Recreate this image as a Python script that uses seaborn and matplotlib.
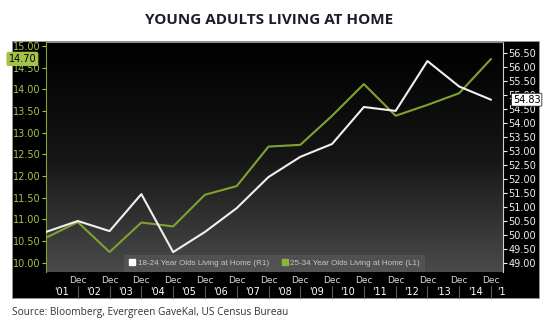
import numpy as np
import pandas as pd
import matplotlib
matplotlib.use("Agg")
import matplotlib.pyplot as plt
import matplotlib.transforms as mtransforms
from matplotlib.patches import Rectangle
from matplotlib.lines import Line2D
from matplotlib.colors import LinearSegmentedColormap
import seaborn as sns

# ---- data ----
period_idx = list(range(15))
age_18_24 = [50.11, 50.50, 50.14, 51.46, 49.39, 50.11, 50.96, 52.07, 52.79,
             53.25, 54.57, 54.43, 56.21, 55.30, 54.83]
age_25_34 = [10.58, 10.94, 10.25, 10.93, 10.84, 11.57, 11.77, 12.68, 12.72,
             13.39, 14.12, 13.39, 13.64, 13.91, 14.70]
dec_labels = ["Dec"] * 14
year_labels = ["'01", "'02", "'03", "'04", "'05", "'06", "'07", "'08", "'09",
               "'10", "'11", "'12", "'13", "'14", "'1"]
left_ticks = [10.0, 10.5, 11.0, 11.5, 12.0, 12.5, 13.0, 13.5, 14.0, 14.5, 15.0]
right_ticks = [49.0, 49.5, 50.0, 50.5, 51.0, 51.5, 52.0, 52.5, 53.0, 53.5,
               54.0, 54.5, 55.0, 55.5, 56.0, 56.5]
name_white = "18-24 Year Olds Living at Home (R1)"
name_green = "25-34 Year Olds Living at Home (L1)"

df = pd.DataFrame({"idx": period_idx, "r1": age_18_24, "l1": age_25_34})

sns.set_style("white")
plt.rcParams["font.family"] = ["DejaVu Sans"]

GREEN_LINE = "#7fa233"
GREEN_TXT = "#a3c24a"
WHITE = "#f0f0f0"

W, H = 550, 324
fig = plt.figure(figsize=(5.5, 3.24), dpi=100)
fig.patch.set_facecolor("white")

# black panel
panel = Rectangle((12 / W, 1 - 298 / H), (539 - 12) / W, (298 - 41) / H,
                  transform=fig.transFigure, facecolor="black",
                  edgecolor="#9a9a9a", linewidth=0.6, zorder=-10)
fig.patches.append(panel)

ax = fig.add_axes([46 / W, 1 - 272 / H, 457 / W, 230 / H])
ax.set_facecolor("none")
ax2 = ax.twinx()

# gradient background
grad = np.linspace(0, 1, 256).reshape(-1, 1)
cmap = LinearSegmentedColormap.from_list("g", ["#000000", "#151515", "#4a4a4a"])
ax.imshow(grad, extent=[0, 1, 0, 1], transform=ax.transAxes, aspect="auto",
          cmap=cmap, origin="upper", zorder=0, interpolation="bilinear")

sns.lineplot(data=df, x="idx", y="l1", ax=ax, color=GREEN_LINE, linewidth=1.5,
             legend=False, zorder=3)
sns.lineplot(data=df, x="idx", y="r1", ax=ax2, color=WHITE, linewidth=1.5,
             legend=False, zorder=3)

xmax = 14 + 12 / 31.8
ax.set_xlim(0, xmax)
ax.set_ylim(9.79, 15.09)
ax2.set_ylim(48.68, 56.89)
ax.set_xlabel("")
ax.set_ylabel("")
ax2.set_ylabel("")

# left axis
ax.set_yticks(left_ticks)
ax.set_yticklabels([f"{v:.2f}" for v in left_ticks])
ax.tick_params(axis="y", colors=GREEN_TXT, labelsize=7, length=3, width=0.8,
               direction="out", pad=1)
# right axis
ax2.set_yticks(right_ticks)
ax2.set_yticklabels([f"{v:.2f}" for v in right_ticks])
ax2.tick_params(axis="y", colors=WHITE, labelsize=7, length=3, width=0.8,
                direction="out", pad=1)

# x axis
dec_pos = period_idx[1:]
ax.set_xticks(dec_pos)
ax.set_xticklabels(dec_labels)
ax.tick_params(axis="x", colors="#d8d8d8", labelsize=6.5, length=2, width=0.8,
               direction="out", pad=1)
trans = mtransforms.blended_transform_factory(ax.transData, ax.transAxes)
for i, lab in enumerate(year_labels):
    xpos = i + 0.5 if i < 14 else xmax - 0.05
    ax.text(xpos, -0.087, lab, transform=trans, ha="center", va="center",
            color="white", fontsize=7, clip_on=False)
for p in dec_pos:
    ax.plot([p, p], [-0.06, -0.115], transform=trans, color="#5a5a5a",
            linewidth=0.8, clip_on=False)

for a in (ax, ax2):
    for s in a.spines.values():
        s.set_visible(False)
ax2.spines["left"].set_visible(True)
ax2.spines["left"].set_color(GREEN_LINE)
ax2.spines["right"].set_visible(True)
ax2.spines["right"].set_color("#cfcfcf")
ax2.spines["top"].set_visible(True)
ax2.spines["top"].set_color("#8a8a8a")
for s in ("left", "right", "top"):
    ax2.spines[s].set_linewidth(0.8)

# last value labels
ax.annotate(f"{age_25_34[-1]:.2f}", xy=(0, age_25_34[-1]),
            xycoords=mtransforms.blended_transform_factory(ax.transAxes, ax.transData),
            xytext=(-17, 0), textcoords="offset points", ha="center", va="center",
            fontsize=7, color="black", zorder=10,
            bbox=dict(boxstyle="round,pad=0.15", fc=GREEN_TXT, ec=GREEN_TXT))
ax2.annotate(f"{age_18_24[-1]:.2f}", xy=(1, age_18_24[-1]),
             xycoords=mtransforms.blended_transform_factory(ax2.transAxes, ax2.transData),
             xytext=(17, 0), textcoords="offset points", ha="center", va="center",
             fontsize=7, color="black", zorder=10,
             bbox=dict(boxstyle="round,pad=0.15", fc="white", ec="black", lw=0.5))

# legend
handles = [Line2D([], [], marker="s", linestyle="none", markersize=5,
                  markerfacecolor="white", markeredgecolor="white"),
           Line2D([], [], marker="s", linestyle="none", markersize=5,
                  markerfacecolor="#8ab43a", markeredgecolor="#8ab43a")]
leg = ax2.legend(handles, [name_white, name_green], loc="lower center",
                 bbox_to_anchor=(0.5, 0.0), ncol=2, frameon=True, fancybox=False,
                 prop={"family": "Liberation Sans", "size": 5.8},
                 labelcolor="#c8c8c8", handletextpad=0.2, columnspacing=1.6,
                 borderpad=0.6, handlelength=0.9, borderaxespad=0.0)
leg.get_frame().set_facecolor("#5c5c5c")
leg.get_frame().set_alpha(0.55)
leg.get_frame().set_edgecolor("none")

fig.text(0.49, 1 - 20 / H, "YOUNG ADULTS LIVING AT HOME", ha="center", va="center",
         fontsize=11, fontweight="bold", family="Open Sans", color="#1c1c2c")
fig.text(12 / W, 1 - 312 / H, "Source: Bloomberg, Evergreen GaveKal, US Census Bureau",
         ha="left", va="center", fontsize=7.3, family="Open Sans", color="#333333")

fig.savefig("out.png", dpi=100)
